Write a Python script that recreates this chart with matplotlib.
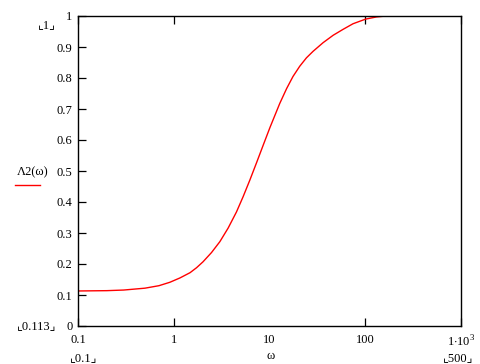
import matplotlib
matplotlib.use("Agg")
import matplotlib.pyplot as plt
from matplotlib.ticker import FixedLocator, FixedFormatter

plt.rcParams["font.family"] = ["Liberation Serif", "DejaVu Sans"]
plt.rcParams["mathtext.fontset"] = "custom"
plt.rcParams["mathtext.rm"] = "Liberation Serif"

# values
omega = [0.1, 0.2, 0.3, 0.5, 0.7, 0.91, 1.16, 1.48, 1.73, 2.02, 2.48, 3.03, 3.7, 4.52, 5.3, 6.24,
         7.33, 8.61, 10.1, 12.8, 15.1, 17.6, 20.7, 24.3, 28.5, 36.3, 46.3, 58.7, 74.5, 101, 131,
         165, 250, 1000]
lam2 = [0.113, 0.114, 0.116, 0.122, 0.130, 0.141, 0.155, 0.172, 0.188, 0.207, 0.237, 0.272, 0.316,
        0.368, 0.417, 0.471, 0.527, 0.584, 0.640, 0.718, 0.766, 0.805, 0.838, 0.865, 0.886, 0.914,
        0.938, 0.957, 0.975, 0.990, 0.997, 1.0, 1.0, 1.0]

x_ticks = [0.1, 1, 100, 1000]
x_labels = ["0.1", "1", "100", r"1$\cdot$10$^{3}$"]
x_mid_tick = [10]
x_mid_label = ["10"]
y_ticks = [0, 0.1, 0.2, 0.3, 0.4, 0.5, 0.6, 0.7, 0.8, 0.9, 1]
y_labels = ["0", "0.1", "0.2", "0.3", "0.4", "0.5", "0.6", "0.7", "0.8", "0.9", "1"]

W, H = 481, 364
fig = plt.figure(figsize=(W / 100, H / 100), dpi=100)
ax = fig.add_axes([78 / W, (H - 326) / H, (461 - 78) / W, (326 - 16) / H])

ax.semilogx(omega, lam2, color="red", linewidth=1.0)
ax.set_xlim(0.1, 1000)
ax.set_ylim(0, 1)

ax.xaxis.set_major_locator(FixedLocator(x_ticks))
ax.xaxis.set_major_formatter(FixedFormatter(x_labels))
ax.xaxis.set_minor_locator(FixedLocator(x_mid_tick))
ax.xaxis.set_minor_formatter(FixedFormatter(x_mid_label))
ax.set_yticks(y_ticks)
ax.set_yticklabels(y_labels)
ax.tick_params(axis="x", which="major", direction="in", top=True, length=6, width=0.9, pad=6, labelsize=9)
ax.tick_params(axis="x", which="minor", direction="in", top=True, length=0, pad=6, labelsize=9)
ax.tick_params(axis="y", direction="in", length=6, width=0.9, pad=4, labelsize=9)
for s in ax.spines.values():
    s.set_linewidth(1.0)


def px(x, y):
    return x / W, 1 - y / H


fig.text(*px(33, 172), "Λ2(ω)", fontsize=9, ha="center", va="center")
fig.add_artist(plt.Line2D([15 / W, 40 / W], [1 - 185 / H, 1 - 185 / H], color="red", linewidth=1.0))
fig.text(*px(47, 25), "⌞1⌟", fontsize=9, ha="center", va="center")
fig.text(*px(37, 326), "⌞0.113⌟", fontsize=9, ha="center", va="center")
fig.text(*px(84, 358), "⌞0.1⌟", fontsize=9, ha="center", va="center")
fig.text(*px(458, 358), "⌞500⌟", fontsize=9, ha="center", va="center")
fig.text(*px(271, 356), "ω", fontsize=9, ha="center", va="center")

fig.savefig("out.png", dpi=100, facecolor="white")
